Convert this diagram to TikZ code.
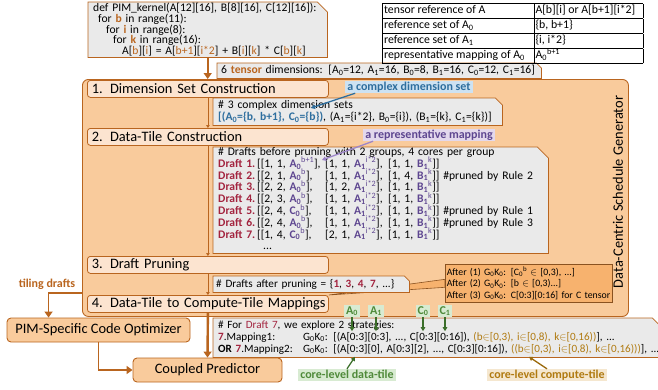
\documentclass[tikz,border=0pt]{standalone}
\usepackage{fontspec}
\setmainfont{Carlito}
\usepackage{array}
\usetikzlibrary{positioning,arrows.meta,calc}
\pgfdeclarelayer{bottom}
\pgfdeclarelayer{background}
\pgfsetlayers{bottom,background,main}
\definecolor{oborder}{HTML}{B9651F}
\definecolor{genfill}{HTML}{F9CB9C}
\definecolor{stepfill}{HTML}{FCE4D0}
\definecolor{notefill}{HTML}{EAEAEA}
\definecolor{callfill}{HTML}{F7B26E}
\definecolor{calldraw}{HTML}{8A5220}
\definecolor{draftred}{HTML}{A3243F}
\definecolor{mappurple}{HTML}{5E4690}
\definecolor{arrowpurple}{HTML}{9D85C8}
\definecolor{dimblue}{HTML}{2E6E9E}
\definecolor{bluebg}{HTML}{CDE2F2}
\definecolor{purplebg}{HTML}{E3D8EC}
\definecolor{tilegreen}{HTML}{4F8A3A}
\definecolor{greenbg}{HTML}{D8EBD2}
\definecolor{arrowgreen}{HTML}{3B6E2A}
\definecolor{tilebrown}{HTML}{B07A10}
\definecolor{brownbg}{HTML}{F5E7CF}
\definecolor{arrowbrown}{HTML}{9C6B0E}
\tikzstyle{genbox} = [draw=oborder, fill=genfill, line width=0.9pt, rounded corners=6pt, anchor=north west]
\tikzstyle{stepbox} = [draw=oborder, fill=stepfill, line width=0.8pt, rounded corners=3pt, anchor=north west,
minimum width=241, minimum height=17, inner xsep=4.5pt, inner ysep=0pt, text width=232pt, align=left,
font=\fontsize{14.4}{15}\selectfont]
\tikzstyle{notebox} = [anchor=north west, inner xsep=5pt, inner ysep=0pt, align=left,
font=\fontsize{11.6}{11.4}\selectfont]
\tikzstyle{bigbox} = [draw=oborder, fill=genfill, line width=0.9pt, rounded corners=4pt, minimum height=24,
font=\fontsize{14.4}{15}\selectfont]
\tikzstyle{tag} = [inner xsep=2pt, inner ysep=1pt, text height=8pt, text depth=2pt,
font=\fontsize{12}{12}\selectfont\bfseries]
\tikzstyle{flow} = [draw=oborder, line width=2.4pt, -{Triangle[length=6pt,width=8pt]}]
\tikzstyle{stepline} = [draw=oborder, line width=0.7pt, -{Triangle[length=3pt,width=3.5pt]}]
\tikzstyle{garrow} = [draw=arrowgreen, line width=1.3pt, -{Triangle[length=4pt,width=4.5pt]}]
\newcommand{\codeidx}[1]{\textcolor{oborder}{#1}}
\newcommand{\codevar}[1]{\textcolor{oborder}{\textbf{#1}}}
\newcommand{\draftno}[1]{\textcolor{draftred}{\textbf{Draft #1.}}}
\newcommand{\tilevar}[3]{\textcolor{mappurple}{\textbf{#1\textsubscript{#2}}\smash{\textsuperscript{#3}}}}
\newcommand{\dimsub}[2]{#1\textsubscript{#2}}
\newcommand{\gkz}{G\textsubscript{0}K\textsubscript{0}}
\newcommand{\rednum}[1]{\textcolor{draftred}{\textbf{#1}}}
\newcommand{\notebg}[2]{%
	\begin{pgfonlayer}{background}
		\path[draw=oborder, fill=notefill, line width=0.8pt] (#1.south west) -- (#1.north west)
		-- ($(#1.north east)+(-#2,0)$) -- ($(#1.north east)+(0,#2)$) -- (#1.south east) -- cycle;
	\end{pgfonlayer}}
\begin{document}
\begin{tikzpicture}[x=1pt,y=-1pt]
	\useasboundingbox (0,0) rectangle (658,389);
	
	% Generator frame
	\begin{pgfonlayer}{bottom}
		\node[genbox, minimum width=546, minimum height=237] (gen) at (82,79) {};
	\end{pgfonlayer}
	\node[font=\fontsize{14.4}{15}\selectfont, rotate=90] (genlabel) at (618,192) {Data-Centric Schedule Generator};
	
	% Kernel code and reference table
	\node[notebox, text width=229pt, minimum height=55, font=\fontsize{11.6}{10.8}\selectfont] (code) at (88,2)
	{def PIM\_kernel(A[12][16], B[8][16], C[12][16]):\\
		\hspace*{5pt}for \codevar{b} in range(11):\\
		\hspace*{13pt}for \codevar{i} in range(8):\\
		\hspace*{20pt}for \codevar{k} in range(16):\\
		\hspace*{29pt}A[\codeidx{b}][\codeidx{i}] = A[\codeidx{b+1}][\codeidx{i*2}] + B[\codeidx{i}][\codeidx{k}] * C[\codeidx{b}][\codeidx{k}]};
	\notebg{code}{10}
	\node[anchor=north west, inner sep=0pt, font=\fontsize{11.8}{12}\selectfont] (reftab) at (382,3)
	{\renewcommand{\arraystretch}{1.22}\setlength{\tabcolsep}{1.5pt}%
		\begin{tabular}{|p{148pt}|p{106pt}|}
			\hline tensor reference of A & A[b][i] or A[b+1][i*2]\\
			\hline reference set of \dimsub{A}{0} & \{b, b+1\}\\
			\hline reference set of \dimsub{A}{1} & \{i, i*2\}\\
			\hline representative mapping of \dimsub{A}{0} & \dimsub{A}{0}\textsuperscript{b+1}\\
			\hline
	\end{tabular}};
	\node[notebox, inner xsep=4pt, text width=316pt, minimum height=15] (tdim) at (217,63)
	{6 \codevar{tensor} dimensions: [\dimsub{A}{0}=12, \dimsub{A}{1}=16, \dimsub{B}{0}=8, \dimsub{B}{1}=16, \dimsub{C}{0}=12, \dimsub{C}{1}=16]};
	\notebg{tdim}{5}
	
	% Steps
	\node[stepbox] (step1) at (87,80) {1. Dimension Set Construction};
	\node[stepbox] (step2) at (87,128) {2. Data-Tile Construction};
	\node[stepbox] (step3) at (87,256) {3. Draft Pruning};
	\node[stepbox] (step4) at (87,295) {\mbox{4. Data-Tile to Compute-Tile Mappings}};
	
	% Step outputs
	\node[notebox, text width=279pt, minimum height=27, font=\fontsize{11.6}{12}\selectfont] (dimsets) at (213,98)
	{\# 3 complex dimension sets\\
		\textcolor{dimblue}{\textbf{[(\dimsub{A}{0}=\{b, b+1\}, \dimsub{C}{0}=\{b\})}}, (\dimsub{A}{1}=\{i*2\}, \dimsub{B}{0}=\{i\}), (\dimsub{B}{1}=\{k\}, \dimsub{C}{1}=\{k\})]};
	\notebg{dimsets}{7}
	\node[notebox, text width=325pt, minimum height=106] (drafts) at (213,147)
	{\begin{tabular}{@{}p{39pt}@{}p{68pt}@{}p{63pt}@{}l@{}}
			\multicolumn{4}{@{}l@{}}{\# Drafts before pruning with 2 groups, 4 cores per group}\\
			\draftno{1} & [[1, 1, \tilevar{A}{0}{b+1}], & [1, 1, \tilevar{A}{1}{i*2}], & [1, 1, \tilevar{B}{1}{k}]]\\
			\draftno{2} & [[2, 1, \tilevar{A}{0}{b}], & [1, 1, \tilevar{A}{1}{i*2}], & [1, 4, \tilevar{B}{1}{k}]] \#pruned by Rule 2\\
			\draftno{3} & [[2, 2, \tilevar{A}{0}{b}], & [1, 2, \tilevar{A}{1}{i*2}], & [1, 1, \tilevar{B}{1}{k}]]\\
			\draftno{4} & [[2, 3, \tilevar{A}{0}{b}], & [1, 1, \tilevar{A}{1}{i*2}], & [1, 1, \tilevar{B}{1}{k}]]\\
			\draftno{5} & [[2, 4, \tilevar{C}{0}{b}], & [1, 1, \tilevar{A}{1}{i*2}], & [1, 1, \tilevar{B}{1}{k}]] \#pruned by Rule 1\\
			\draftno{6} & [[2, 4, \tilevar{A}{0}{b}], & [1, 1, \tilevar{A}{1}{i*2}], & [1, 1, \tilevar{B}{1}{k}]] \#pruned by Rule 3\\
			\draftno{7} & [[1, 4, \tilevar{C}{0}{b}], & [2, 1, \tilevar{A}{1}{i*2}], & [1, 1, \tilevar{B}{1}{k}]]\\
			& \hspace*{6pt}...\\
	\end{tabular}};
	\notebg{drafts}{11}
	\node[anchor=north west, draw=calldraw, fill=callfill, line width=0.6pt, inner xsep=1.5pt, inner ysep=0pt,
	text width=164pt, minimum height=38, align=left, font=\fontsize{9.8}{11.5}\selectfont] (after) at (445,264)
	{After (1) \gkz: [\dimsub{C}{0}\textsuperscript{b} $\in$ [0,3), ...]\\
		After (2) \gkz: [b $\in$ [0,3)...]\\
		After (3) \gkz: C[0:3][0:16] for C tensor};
	\begin{pgfonlayer}{background}
		\path[fill=callfill, draw=calldraw, line width=0.6pt] (step4.north east) -- ($(after.west)+(0,-4)$)
		-- ($(after.west)+(0,4)$) -- cycle;
	\end{pgfonlayer}
	\node[notebox, inner xsep=3pt, text width=190pt, minimum height=16, font=\fontsize{11.2}{11.4}\selectfont] (pruned) at (213,276)
	{\# Drafts after pruning = \{\rednum{1}, \rednum{3}, \rednum{4}, \rednum{7}, ...\}};
	\notebg{pruned}{5}
	
	% Back end
	\node[bigbox, minimum width=183] (pim) at (98.5,330) {PIM-Specific Code Optimizer};
	\node[bigbox, minimum width=149] (cp) at (207.5,370) {Coupled Predictor};
	\node[notebox, text width=435pt, minimum height=39, font=\fontsize{11.1}{12}\selectfont] (mapping) at (213,318)
	{\begin{tabular}{@{}p{85pt}@{}l@{}}
			\multicolumn{2}{@{}l@{}}{\# For \textcolor{draftred}{Draft 7}, we explore 2 strategies:}\\
			\rednum{7}.Mapping1: & \gkz: [(A[0:3][0:3], ..., C[0:3][0:16]), \textcolor{tilebrown}{(b$\in$[0,3), i$\in$[0,8), k$\in$[0,16))}], ...\\
			\textbf{OR} \rednum{7}.Mapping2: & \gkz: [(A[0:3][0], A[0:3][2], ..., C[0:3][0:16]), \textcolor{tilebrown}{((b$\in$[0,3), i$\in$[0,8), k$\in$[0,16)))}], ...\\
	\end{tabular}};
	\notebg{mapping}{6}
	
	% Labels
	\node[tag, fill=bluebg, text=dimblue] (cdsl) at (409,87) {a complex dimension set};
	\node[tag, fill=purplebg, text=mappurple] (rml) at (429,135) {a representative mapping};
	\node[font=\fontsize{12}{12}\selectfont\bfseries, text=oborder] (tiling) at (47,284) {tiling drafts};
	\node[tag, fill=greenbg, text=tilegreen] (ta0) at (352,311) {A\textsubscript{0}};
	\node[tag, fill=greenbg, text=tilegreen] (ta1) at (376,311) {A\textsubscript{1}};
	\node[tag, fill=greenbg, text=tilegreen] (tc0) at (423,311) {C\textsubscript{0}};
	\node[tag, fill=greenbg, text=tilegreen] (tc1) at (445,311) {C\textsubscript{1}};
	\node[tag, fill=greenbg, text=tilegreen] (dtile) at (347,375) {core-level data-tile};
	\node[tag, fill=brownbg, text=tilebrown] (ctile) at (547,375) {core-level compute-tile};
	\coordinate (cdstip) at (311,108);
	\coordinate (rmtip) at (322,160);
	
	% Draw arrows
	\path[flow] (code.south) -- (code.south |- gen.north);
	\path[stepline] (step1.south) -- (step2.north);
	\path[stepline] (step2.south) -- (step3.north);
	\path[stepline] (step3.south) -- (step4.north);
	\path[flow] (step4.south) -- (cp.north);
	\path[flow, line width=1.8pt] (pim.south) |- (cp.west);
	\path[flow, line width=1.8pt] ($(gen.south west)+(0,-24)$) -| ($(pim.north west)+(42,0)$);
	\path[draw=dimblue, line width=1.3pt, -{Triangle[length=4pt,width=4.5pt]}] ($(cdsl.south west)+(10,0)$) -- (cdstip);
	\path[draw=arrowpurple, line width=1.3pt, -{Triangle[length=4pt,width=4.5pt]}] ($(rml.south west)+(10,0)$) -- (rmtip);
	\foreach \t in {ta0,ta1,tc0,tc1}
	\path[garrow] (\t.south) -- ++(0,14);
	\path[garrow] (dtile.north) -- ++(8,-12);
	\path[draw=arrowbrown, line width=1.3pt, -{Triangle[length=4pt,width=4.5pt]}] (ctile.north) -- ++(-18,-12);
	
\end{tikzpicture}
\end{document}
